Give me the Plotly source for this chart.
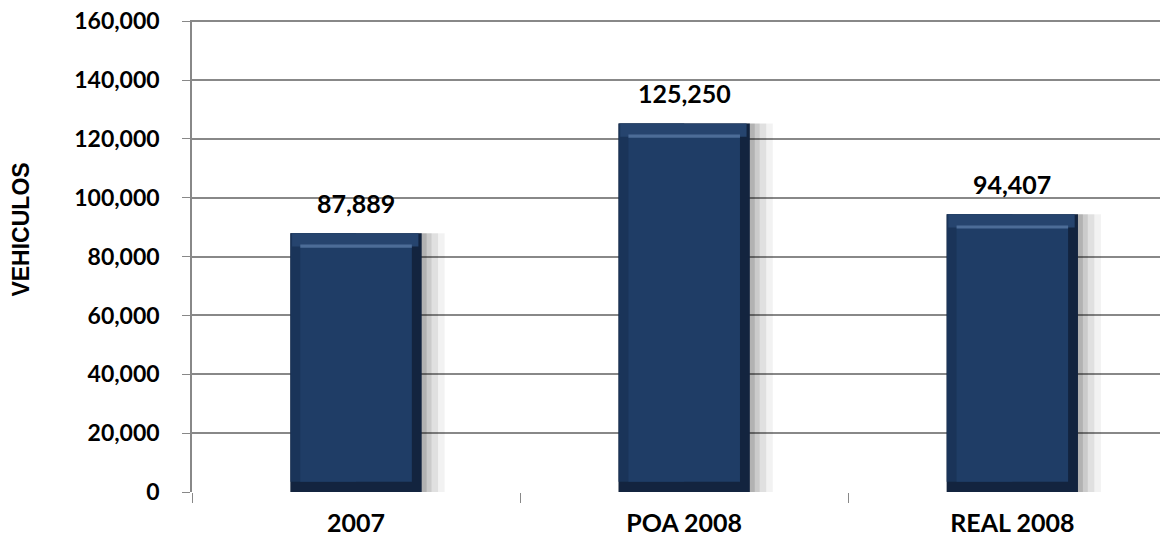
import plotly.graph_objects as go

categories = ["2007", "POA 2008", "REAL 2008"]
values = [87889, 125250, 94407]
value_labels = ["87,889", "125,250", "94,407"]
y_tick_vals = [0, 20000, 40000, 60000, 80000, 100000, 120000, 140000, 160000]
y_tick_text = ["0", "20,000", "40,000", "60,000", "80,000", "100,000", "120,000", "140,000", "160,000"]
y_title = "VEHICULOS"

FONT = "Lato, 'Open Sans', Arial, sans-serif"

fig = go.Figure()
# soft shadow layers on the right
for w, a in [(0.47, 0.05), (0.45, 0.07), (0.43, 0.09), (0.415, 0.12)]:
    fig.add_trace(go.Bar(x=categories, y=[v * 1.0 for v in values], width=w, offset=-0.2,
                         marker=dict(color=f"rgba(0,0,0,{a})", line=dict(width=0)),
                         hoverinfo="skip", showlegend=False))
# outer bevel (dark)
fig.add_trace(go.Bar(x=categories, y=values, width=0.4, offset=-0.2,
                     marker=dict(color="#13243F", line=dict(width=0)),
                     showlegend=False))
# left bevel (slightly lighter)
fig.add_trace(go.Bar(x=categories, y=[v - 3500 for v in values], base=[3500] * len(values),
                     width=0.2, offset=-0.2,
                     marker=dict(color="#1A3459", line=dict(width=0)),
                     hoverinfo="skip", showlegend=False))
# top bevel
fig.add_trace(go.Bar(x=categories, y=[4500] * len(values), base=[v - 4500 for v in values],
                     width=0.385, offset=-0.195,
                     marker=dict(color="#26446E", line=dict(width=0)),
                     hoverinfo="skip", showlegend=False))
# inner face
fig.add_trace(go.Bar(x=categories, y=[v - 3500 - 4500 for v in values], base=[3500] * len(values),
                     width=0.34, offset=-0.17,
                     marker=dict(color="#1F3D66", line=dict(width=0)),
                     hoverinfo="skip", showlegend=False))
# highlight line at inner top edge
fig.add_trace(go.Bar(x=categories, y=[1100] * len(values), base=[v - 4900 for v in values],
                     width=0.34, offset=-0.17,
                     marker=dict(color="#4C6C97", line=dict(width=0)),
                     hoverinfo="skip", showlegend=False))

for i, (v, t) in enumerate(zip(values, value_labels)):
    fig.add_annotation(x=i, y=v, xref="x", yref="y", text=f"<b>{t}</b>", showarrow=False,
                       yshift=30, font=dict(family=FONT, size=25, color="#000000"))

fig.add_annotation(xref="paper", yref="paper", x=0, y=0.556, xshift=-171, xanchor="center",
                   yanchor="middle", textangle=-90, showarrow=False, text=f"<b>{y_title}</b>",
                   font=dict(family="Arial, 'Liberation Sans', sans-serif", size=23, color="#000000"))

fig.update_layout(
    width=1160, height=556,
    margin=dict(l=192, r=0, t=20, b=64, autoexpand=False),
    paper_bgcolor="white", plot_bgcolor="white",
    barmode="overlay",
    font=dict(family=FONT, size=18, color="#000000"),
    xaxis=dict(
        type="category", tickson="boundaries", ticks="outside", ticklen=10,
        tickcolor="#888888", showline=False, showgrid=False, automargin=False,
        tickvals=categories, ticktext=[f"<b>{c}</b>" for c in categories],
        tickfont=dict(family=FONT, size=25, color="#000000"),
        ticklabelstandoff=14, range=[-0.5, 2.45],
    ),
    yaxis=dict(
        range=[0, 160400], tickvals=y_tick_vals, ticktext=[f"<b>{t}</b>" for t in y_tick_text],
        showline=True, linecolor="#888888", linewidth=1.5, automargin=False,
        showgrid=True, gridcolor="#888888", gridwidth=1.5,
        ticks="outside", ticklen=8, tickcolor="#888888",
        tickfont=dict(family=FONT, size=23, color="#000000"),
        ticklabelstandoff=18, ticklabeloverflow="allow",
        zeroline=False,
    ),
)

fig.write_html("out.html", config={"displayModeBar": False},
               post_script="document.body.style.margin='0';")
